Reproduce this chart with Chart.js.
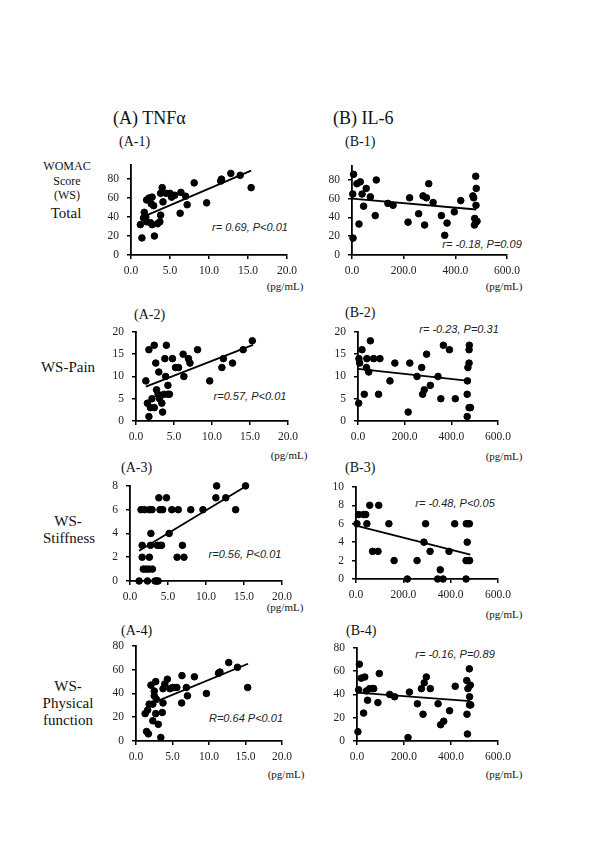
<!DOCTYPE html>
<html>
<head>
<meta charset="utf-8">
<script src="https://cdn.jsdelivr.net/npm/chart.js@4"></script>
<style>
  body { margin:0; background:#fff; width:600px; height:849px; position:relative; overflow:hidden;
         font-family:'Liberation Serif','Times New Roman',serif; color:#111; }
  canvas { position:absolute; }
  .c { position:absolute; white-space:nowrap; transform:translate(-50%,-50%); line-height:1; }
  .l { position:absolute; white-space:nowrap; transform:translateY(-50%); line-height:1; }
  .r { position:absolute; white-space:nowrap; transform:translate(-50%,-50%); line-height:1;
       font-family:'Liberation Sans',Arial,sans-serif; font-style:italic; font-size:11px; color:#222; }
</style>
</head>
<body>

<div class="l" style="left:113px;top:118px;font-size:18px">(A) TNFα</div>
<div class="l" style="left:333px;top:118px;font-size:18px">(B) IL-6</div>

<div class="l" style="left:119px;top:142px;font-size:14px">(A-1)</div>
<div class="l" style="left:345px;top:142px;font-size:14px">(B-1)</div>
<div class="l" style="left:134px;top:315px;font-size:14px">(A-2)</div>
<div class="l" style="left:345px;top:313px;font-size:14px">(B-2)</div>
<div class="l" style="left:121px;top:468px;font-size:14px">(A-3)</div>
<div class="l" style="left:345px;top:468px;font-size:14px">(B-3)</div>
<div class="l" style="left:121px;top:631px;font-size:14px">(A-4)</div>
<div class="l" style="left:346px;top:631px;font-size:14px">(B-4)</div>

<!-- row labels -->
<div class="c" style="left:67px;top:166px;font-size:12px">WOMAC</div>
<div class="c" style="left:67px;top:181px;font-size:12px">Score</div>
<div class="c" style="left:67px;top:195px;font-size:12px">(WS)</div>
<div class="c" style="left:66px;top:213px;font-size:15px">Total</div>
<div class="c" style="left:68px;top:367px;font-size:15px">WS-Pain</div>
<div class="c" style="left:68px;top:521px;font-size:15px">WS-</div>
<div class="c" style="left:69px;top:538px;font-size:15px">Stiffness</div>
<div class="c" style="left:68px;top:686px;font-size:15px">WS-</div>
<div class="c" style="left:68px;top:703px;font-size:15px">Physical</div>
<div class="c" style="left:68px;top:720px;font-size:15px">function</div>

<!-- units -->
<div class="c" style="left:285px;top:286px;font-size:11px">(pg/mL)</div>
<div class="c" style="left:504px;top:286px;font-size:11px">(pg/mL)</div>
<div class="c" style="left:289px;top:455px;font-size:11px">(pg/mL)</div>
<div class="c" style="left:504px;top:456px;font-size:11px">(pg/mL)</div>
<div class="c" style="left:285px;top:607px;font-size:11px">(pg/mL)</div>
<div class="c" style="left:504px;top:614px;font-size:11px">(pg/mL)</div>
<div class="c" style="left:286px;top:774px;font-size:11px">(pg/mL)</div>
<div class="c" style="left:504px;top:774px;font-size:11px">(pg/mL)</div>

<!-- correlation notes -->
<div class="r" style="left:250px;top:227px">r= 0.69, P&lt;0.01</div>
<div class="r" style="left:482px;top:244px">r= -0.18, P=0.09</div>
<div class="r" style="left:250px;top:396px">r=0.57, P&lt;0.01</div>
<div class="r" style="left:459px;top:329px">r= -0.23, P=0.31</div>
<div class="r" style="left:245px;top:554px">r=0.56, P&lt;0.01</div>
<div class="r" style="left:455px;top:503px">r= -0.48, P&lt;0.05</div>
<div class="r" style="left:246px;top:718px">R=0.64 P&lt;0.01</div>
<div class="r" style="left:455px;top:654px">r= -0.16, P=0.89</div>

<script>
// TNFα (pg/mL) vs WOMAC scores
const tnfTotal = [[1.4,18],[1.2,32],[1.6,39],[1.7,45],[2.0,35],[2.0,58],[2.5,34],[2.7,32],[2.6,54],[2.7,61],
  [2.9,52],[3.0,20],[3.4,33],[3.7,35],[3.8,42],[3.8,65],[4.0,71],[4.1,56],[4.5,65],[5.0,65],[5.2,61],[5.6,63],
  [6.3,44],[6.4,66],[7.0,62],[7.2,53],[8.1,76],[9.7,55],[11.5,78],[11.6,80],[12.8,86],[14.0,84],[15.4,71],[2.3,60],[1.9,40]];
const tnfTotalFit = [[2.05,42],[15.4,89]];

const tnfPain = [[1.3,9],[1.5,4],[1.7,1],[1.7,16],[1.9,3],[2.1,5],[2.4,3],[2.4,17],[2.6,13],[2.7,7],[2.9,6],[3.0,11],
  [3.1,5],[3.4,4],[3.5,2],[3.7,6],[3.8,14],[3.9,10],[4.0,17],[4.2,8],[4.2,6],[4.4,6],[4.8,14],[5.2,12],[5.6,12],
  [6.2,15],[6.3,10],[6.9,14],[7.1,13],[8.1,16],[9.7,9],[11.3,12],[11.5,14],[12.7,13],[14.1,16],[15.3,18]];
const tnfPainFit = [[1.3,7.7],[15.4,17.1]];

const tnfStiff = [[1.2,0],[1.45,6],[1.6,3],[1.6,2],[1.75,1],[1.9,6],[2.1,1],[2.3,0],[2.5,1],[2.55,2],[2.55,6],[2.7,3],
  [2.75,4],[2.9,6],[2.95,1],[3.3,0],[3.5,0],[3.7,0],[3.6,3],[3.8,7],[3.95,3],[3.95,6],[4.15,3],[4.3,6],[4.8,7],
  [5.15,4],[5.5,6],[6.2,2],[6.35,6],[6.9,3],[7.1,2],[8.0,6],[9.6,6],[11.3,7],[11.4,8],[12.6,7],[13.9,6],[15.2,8]];
const tnfStiffFit = [[1.2,2.55],[15.3,8.0]];

const tnfFunc = [[1.25,23],[1.45,8],[1.6,26],[1.7,6],[1.8,31],[2.05,47],[2.3,17],[2.3,31],[2.5,42],[2.5,38],[2.7,50],
  [2.7,23],[2.8,35],[3.05,14],[3.4,3],[3.6,24],[3.7,32],[3.7,44],[3.95,48],[4.3,52],[4.65,44],[5.0,45],[5.3,45],
  [5.6,45],[6.25,32],[6.3,55],[6.9,45],[7.05,38],[8.0,54],[9.65,40],[11.3,57],[11.5,58],[12.7,66],[13.9,62],[15.3,45]];
const tnfFuncFit = [[1.9,31],[15.35,65]];

// IL-6 (pg/mL) vs WOMAC scores
const ilTotal = [[4,18],[6,86],[3,65],[19,76],[32,78],[27,33],[39,65],[45,52],[55,71],[71,62],[90,42],[94,80],
  [139,55],[159,53],[217,35],[223,61],[258,44],[275,63],[281,32],[288,61],[297,76],[314,56],[346,42],[359,21],
  [368,34],[396,46],[421,58],[468,63],[471,61],[474,32],[475,39],[479,84],[481,71],[480,53],[480,35],[484,36]];
const ilTotalFit = [[0,60],[481,48.5]];

const ilPain = [[3,4],[4,14],[7,13],[17,16],[27,6],[36,12],[38,14],[46,11],[53,18],[67,14],[88,6],[94,14],[137,9],
  [158,13],[215,2],[222,13],[253,10],[273,12],[277,6],[284,7],[294,15],[310,8],[343,10],[355,5],[366,17],[392,16],
  [417,5],[468,1],[468,6],[469,9],[471,12],[476,13],[477,17],[476,16],[476,3],[482,3]];
const ilPainFit = [[0,11.7],[476,9.0]];

const ilStiff = [[4,6],[11,7],[32,7],[41,7],[46,6],[58,8],[70,3],[93,3],[96,8],[139,6],[161,2],[217,0],[258,2],
  [287,4],[294,6],[313,3],[345,0],[356,1],[368,0],[393,3],[417,6],[465,0],[465,2],[466,6],[470,4],[475,2],[479,6],
  [480,2],[473,6]];
const ilStiffFit = [[0,5.8],[483,2.65]];

const ilFunc = [[4,8],[7,44],[10,66],[18,54],[28,24],[33,55],[40,43],[45,35],[54,45],[65,45],[71,45],[89,33],[95,58],
  [139,40],[160,38],[217,3],[223,42],[257,32],[274,45],[281,23],[286,50],[295,55],[312,45],[345,32],[356,14],[369,17],
  [394,26],[418,47],[467,52],[468,23],[470,6],[472,45],[478,62],[479,38],[482,48],[479,31],[484,31]];
const ilFuncFit = [[0,41.5],[482,34.3]];

Chart.defaults.font.family = 'Liberation Serif';
Chart.defaults.font.size = 11;
Chart.defaults.color = '#222';

const YW = 34, XH = 26, PT = 8, PR = 20;
const tickFont = { family: 'Liberation Serif', size: 11.5 };

// box = [plot left, plot right, plot top, plot bottom] in page pixels
function panel(pts, fit, box, xMax, xStep, yMax, yStep, yShowMax) {
  const [x0, x1, yt, yb] = box;
  const cv = document.createElement('canvas');
  cv.width = x1 - x0 + YW + PR;
  cv.height = yb - yt + PT + XH;
  cv.style.left = (x0 - YW) + 'px';
  cv.style.top = (yt - PT) + 'px';
  document.body.appendChild(cv);

  const axisGrid = { drawOnChartArea: false, tickLength: 4, color: '#000', lineWidth: 1.5 };
  new Chart(cv, {
    type: 'scatter',
    data: {
      datasets: [
        { data: pts.map(p => ({ x: p[0], y: p[1] })), backgroundColor: '#000', borderColor: '#000',
          pointRadius: 3.3, pointHoverRadius: 3.3, clip: false },
        { type: 'line', data: fit.map(p => ({ x: p[0], y: p[1] })), borderColor: '#000', borderWidth: 1.8,
          pointRadius: 0, fill: false, clip: false }
      ]
    },
    options: {
      responsive: false, animation: false, events: [],
      layout: { padding: { top: PT, right: PR, left: 0, bottom: 0 } },
      plugins: { legend: { display: false }, tooltip: { enabled: false } },
      scales: {
        x: {
          type: 'linear', min: 0, max: xMax,
          ticks: { stepSize: xStep, padding: 5, maxRotation: 0, autoSkip: false, font: tickFont,
                   callback: v => v.toFixed(1) },
          grid: axisGrid, border: { color: '#000', width: 1.8 },
          afterFit: s => { s.height = XH; }
        },
        y: {
          min: 0, max: yMax,
          ticks: { stepSize: yStep, padding: 8, font: tickFont },
          grid: axisGrid, border: { color: '#000', width: 1.8 },
          afterFit: s => { s.width = YW; },
          afterBuildTicks: s => { s.ticks = s.ticks.filter(t => t.value <= yShowMax); }
        }
      }
    }
  });
}

panel(tnfTotal, tnfTotalFit, [131, 287, 158, 255], 20, 5, 95, 20, 80);
panel(ilTotal, ilTotalFit, [352, 507, 159, 255], 600, 200, 95, 20, 80);
panel(tnfPain, tnfPainFit, [136, 288, 325, 421], 20, 5, 20, 5, 20);
panel(ilPain, ilPainFit, [358, 498, 325, 421], 600, 200, 20, 5, 20);
panel(tnfStiff, tnfStiffFit, [130, 282, 479, 581], 20, 5, 8, 2, 8);
panel(ilStiff, ilStiffFit, [356, 498, 480, 579], 600, 200, 10, 2, 10);
panel(tnfFunc, tnfFuncFit, [136, 282, 639, 741], 20, 5, 80, 20, 80);
panel(ilFunc, ilFuncFit, [357, 498, 641, 741], 600, 200, 80, 20, 80);
</script>
</body>
</html>
